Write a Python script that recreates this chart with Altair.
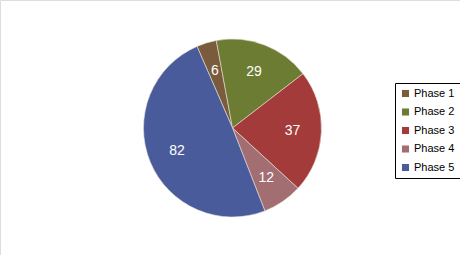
import math
import altair as alt
import pandas as pd

phases = ["Phase 1", "Phase 2", "Phase 3", "Phase 4", "Phase 5"]
values = [6, 29, 37, 12, 82]
colors = ["#7a5c3c", "#6c7c32", "#a33b3b", "#a26e72", "#4a5b9b"]

df = pd.DataFrame({"phase": phases, "value": values, "idx": list(range(len(phases)))})

start = math.radians(-23.5)
theta_scale = alt.Scale(range=[start, start + 2 * math.pi])

base = alt.Chart(df).encode(
    theta=alt.Theta("value:Q", stack=True, scale=theta_scale),
    order=alt.Order("idx:Q"),
    x=alt.value(232.5),
    y=alt.value(128),
)

arcs = base.mark_arc(radius=89, stroke="#e8e0d8", strokeWidth=0.6).encode(
    color=alt.Color(
        "phase:N",
        scale=alt.Scale(domain=phases, range=colors),
        legend=alt.Legend(
            title=None,
            orient="none",
            legendX=395,
            legendY=83,
            strokeColor="black",
            padding=5,
            symbolType="square",
            symbolSize=50,
            symbolStrokeWidth=0,
            labelFontSize=11,
            labelFont="Liberation Sans",
            labelColor="black",
            labelOffset=3,
            rowPadding=6.5,
            symbolOffset=0,
        ),
    )
)

labels = base.mark_text(
    radius=60, fontSize=14, font="Liberation Sans", color="white"
).encode(text="value:Q")

chart = (
    (arcs + labels)
    .properties(width=460, height=255, padding=0, autosize="none")
    .configure_view(stroke="transparent", strokeWidth=0)
    .configure(background="transparent")
)

chart.save("out.html", embed_options={"renderer": "svg", "actions": False})
